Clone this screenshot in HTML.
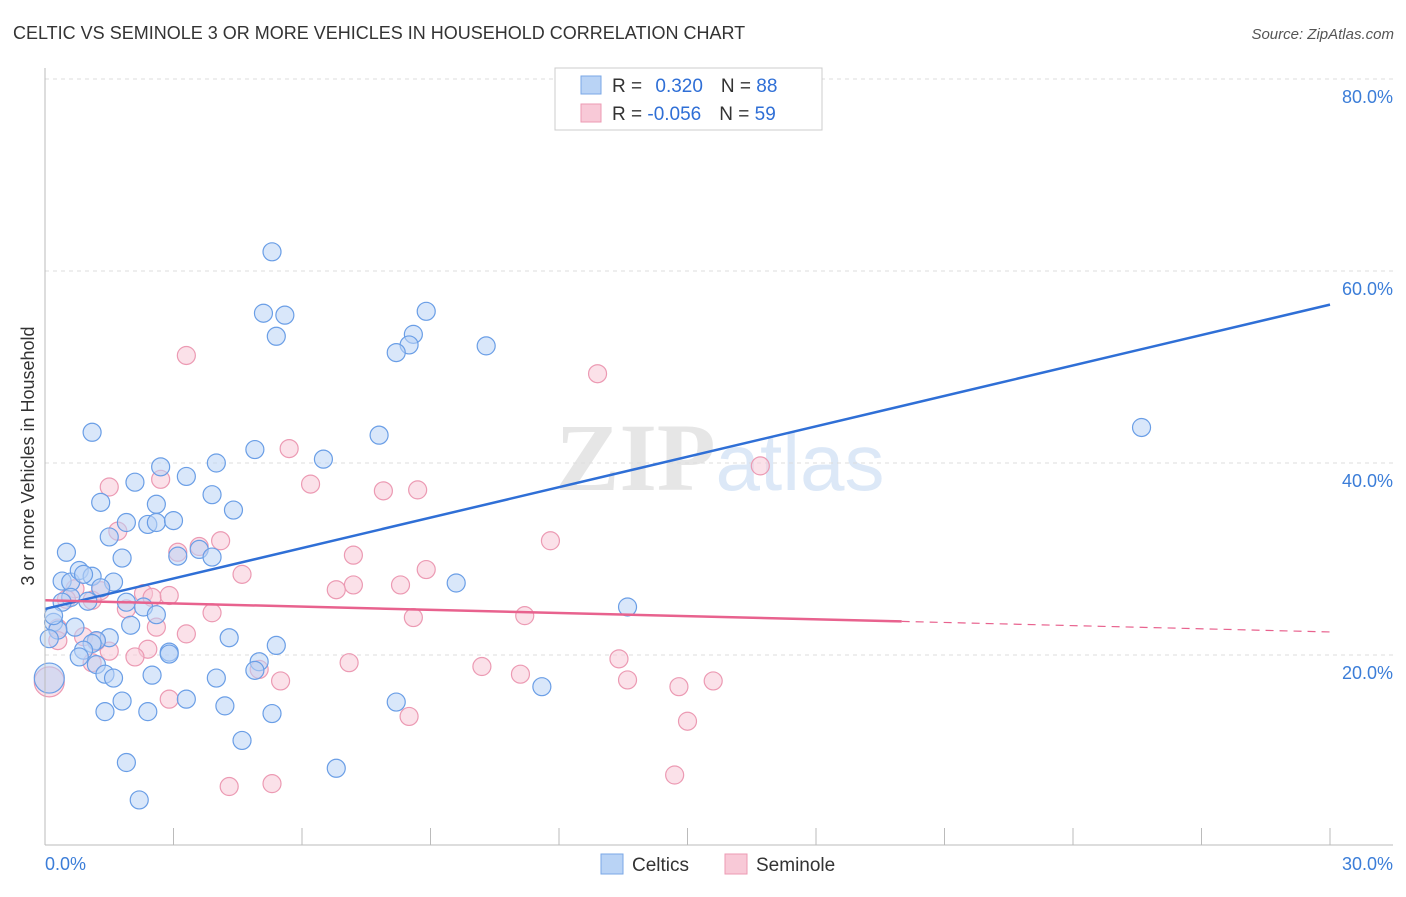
<!DOCTYPE html>
<html><head><meta charset="utf-8"><style>
body{margin:0;background:#fff;font-family:"Liberation Sans",sans-serif}
</style></head><body>
<svg id="chart" width="1406" height="892" xmlns="http://www.w3.org/2000/svg" font-family="Liberation Sans, sans-serif">
<text x="13" y="39" font-size="18" fill="#333">CELTIC VS SEMINOLE 3 OR MORE VEHICLES IN HOUSEHOLD CORRELATION CHART</text>
<text x="1394" y="39" font-size="15" fill="#555" text-anchor="end" font-style="italic">Source: ZipAtlas.com</text>
<text x="720" y="490" font-size="96" text-anchor="middle" fill="#e6e6e6" font-family="Liberation Serif, serif" font-weight="bold">ZIP<tspan fill="#dce8f7" font-family="Liberation Sans, sans-serif" font-weight="normal" font-size="80">atlas</tspan></text>
<text transform="translate(34,456) rotate(-90)" font-size="18" fill="#333" text-anchor="middle">3 or more Vehicles in Household</text>
<g id="grid"></g><g id="pts"></g><g id="lines"></g>
<line x1="45" y1="845" x2="1393" y2="845" stroke="#bbb"/>
<line x1="45" y1="68" x2="45" y2="845" stroke="#bbb"/>
<text x="45" y="870" font-size="18" fill="#3b7dd8">0.0%</text>
<text x="1393" y="870" font-size="18" fill="#3b7dd8" text-anchor="end">30.0%</text>
<g>
<rect x="555" y="68" width="267" height="62" fill="#fff" stroke="#ccc"/>
<rect x="581" y="76" width="20" height="18" fill="#b9d3f5" stroke="#7aa7e6"/>
<rect x="581" y="104" width="20" height="18" fill="#f8c9d7" stroke="#ec9ab3"/>
<text x="612" y="92" font-size="19" fill="#333">R = <tspan fill="#2f6fd6" dx="8">0.320</tspan><tspan dx="18" fill="#333">N = </tspan><tspan fill="#2f6fd6">88</tspan></text>
<text x="612" y="120" font-size="19" fill="#333">R = <tspan fill="#2f6fd6">-0.056</tspan><tspan dx="18" fill="#333">N = </tspan><tspan fill="#2f6fd6">59</tspan></text>
</g>
<g><rect x="601" y="854" width="22" height="20" fill="#b9d3f5" stroke="#7aa7e6"/><text x="632" y="871" font-size="19" fill="#333">Celtics</text></g>
<g><rect x="725" y="854" width="22" height="20" fill="#f8c9d7" stroke="#ec9ab3"/><text x="756" y="871" font-size="19" fill="#333">Seminole</text></g>
</svg>
<script>
const yTicks=[20,40,60,80];
const xTicks=[0,3,6,9,12,15,18,21,24,27,30];
const celticsX=[5.3,5.4,5.1,5.6,8.9,8.6,8.5,8.2,10.3,25.6,1.1,7.8,4.9,6.5,2.7,4.0,3.3,2.1,3.9,1.3,2.6,4.4,1.9,2.4,2.6,3.0,1.5,3.6,0.5,3.9,1.8,3.1,0.4,0.6,0.8,1.1,0.9,1.6,9.6,1.3,0.6,1.0,0.4,1.9,2.3,2.6,13.6,0.2,2.0,0.7,0.3,1.5,1.2,1.1,4.3,0.1,5.4,0.9,2.9,2.9,0.8,5.0,1.2,4.9,1.4,2.5,1.6,4.0,0.1,11.6,1.8,3.3,8.2,4.2,1.4,2.4,5.3,4.6,1.9,6.8,2.2,0.2];
const celticsY=[62.0,53.2,55.6,55.4,55.8,53.4,52.3,51.5,52.2,43.7,43.2,42.9,41.4,40.4,39.6,40.0,38.6,38.0,36.7,35.9,35.7,35.1,33.8,33.6,33.8,34.0,32.3,31.0,30.7,30.2,30.1,30.3,27.7,27.6,28.8,28.2,28.4,27.6,27.5,27.0,26.0,25.6,25.5,25.5,25.0,24.2,25.0,23.4,23.1,22.9,22.6,21.8,21.5,21.2,21.8,21.7,21.0,20.5,20.3,20.1,19.8,19.3,19.0,18.4,18.0,17.9,17.6,17.6,17.6,16.7,15.2,15.4,15.1,14.7,14.1,14.1,13.9,11.1,8.8,8.2,4.9,24.1];
const seminoleX=[3.3,12.9,5.7,16.7,6.2,7.9,8.7,1.5,2.7,1.7,4.1,11.8,3.6,3.1,7.2,4.6,8.9,8.3,7.2,6.8,2.3,2.5,2.9,0.7,0.5,1.3,3.9,1.9,8.6,11.2,2.6,0.3,3.3,0.9,1.2,1.5,2.4,2.1,13.4,7.1,5.0,10.2,11.1,1.1,5.5,13.6,15.6,14.8,0.1,8.5,15.0,2.9,5.3,4.3,14.7,0.3,1.1];
const seminoleY=[51.2,49.3,41.5,39.7,37.8,37.1,37.2,37.5,38.3,32.9,31.9,31.9,31.3,30.7,30.4,28.4,28.9,27.3,27.3,26.8,26.4,26.0,26.2,26.9,25.8,26.7,24.4,24.8,23.9,24.1,22.9,22.8,22.2,21.9,21.4,20.4,20.6,19.8,19.6,19.2,18.5,18.8,18.0,19.2,17.3,17.4,17.3,16.7,17.2,13.6,13.1,15.4,6.6,6.3,7.5,21.5,25.7];
const celticsLine=[24.8,56.5];
const seminoleLine=[25.7,22.4];
const seminoleSolidEnd=20;
const NS="http://www.w3.org/2000/svg";
const sx=v=>45+v/30*1285, sy=v=>847-v*9.6;
const grid=document.getElementById('grid'),pts=document.getElementById('pts'),lines=document.getElementById('lines');
function mk(tag,attrs,parent){const e=document.createElementNS(NS,tag);for(const k in attrs)e.setAttribute(k,attrs[k]);parent.appendChild(e);return e;}
yTicks.forEach(t=>{
 const l=mk('line',{x1:45,x2:1393,y1:sy(t),y2:sy(t),stroke:'#ddd','stroke-dasharray':'4,4'},grid);
 
 
 const tx=mk('text',{x:1393,y:sy(t)+24,'font-size':18,fill:'#3b7dd8','text-anchor':'end'},grid);
 tx.textContent=t.toFixed(1)+'%';
 
 
});
xTicks.forEach(t=>{
 const l=mk('line',{x1:sx(t),x2:sx(t),y1:828,y2:845,stroke:'#bbb'},grid);
 
 
});
function dots(xs,ys,fill,stroke,name){
 xs.forEach((x,i)=>{
  const big=(x<=0.15&&ys[i]>17&&ys[i]<18);
  const c=mk('circle',{cx:sx(x),cy:sy(ys[i]),r:big?15:9,fill:fill,'fill-opacity':0.55,stroke:stroke,'stroke-width':1.2},pts);
  
  
 });
}
dots(seminoleX,seminoleY,'#f8c9d7','#ec9ab3','seminole-point');
dots(celticsX,celticsY,'#b9d3f5','#6a9ee6','celtics-point');
const bl=mk('line',{x1:sx(0),y1:sy(celticsLine[0]),x2:sx(30),y2:sy(celticsLine[1]),stroke:'#2f6fd6','stroke-width':2.5},lines);


const pm=seminoleLine[0]+(seminoleLine[1]-seminoleLine[0])*seminoleSolidEnd/30;
const pl=mk('line',{x1:sx(0),y1:sy(seminoleLine[0]),x2:sx(seminoleSolidEnd),y2:sy(pm),stroke:'#e8628e','stroke-width':2.5},lines);


const pd=mk('line',{x1:sx(seminoleSolidEnd),y1:sy(pm),x2:sx(30),y2:sy(seminoleLine[1]),stroke:'#e8628e','stroke-width':1.2,'stroke-dasharray':'8,6'},lines);


</script>
</body></html>
